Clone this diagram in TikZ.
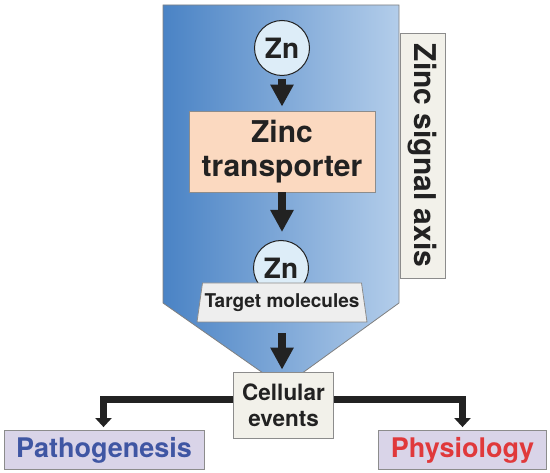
\documentclass[tikz,border=0pt]{standalone}
\usepackage{fontspec}
\setmainfont{TeX Gyre Heros}
\usetikzlibrary{shapes.geometric,arrows.meta}
\definecolor{blueL}{HTML}{4A83C5}
\definecolor{blueR}{HTML}{B3CDEA}
\definecolor{znfill}{HTML}{DDEDF8}
\definecolor{peach}{HTML}{FBD9C0}
\definecolor{paper}{HTML}{F2F1EA}
\definecolor{tgray}{HTML}{EEEEEE}
\definecolor{lav}{HTML}{D9D4E8}
\definecolor{pathblue}{HTML}{3F56A3}
\definecolor{physred}{HTML}{E0393B}
\definecolor{arr}{HTML}{222222}
\tikzset{
  znode/.style={circle,draw=arr,line width=1pt,fill=znfill,minimum size=55pt,inner sep=0pt,text=arr,font=\bfseries\fontsize{28}{30}\selectfont},
  boxnode/.style={draw=black!45,line width=0.8pt,inner sep=0pt,align=center,text=arr},
  bigarrow/.style={draw=arr,line width=8pt,-{Triangle[width=22pt,length=22pt]}},
  elbow/.style={draw=arr,line width=7pt,-{Triangle[width=16pt,length=9pt]}},
}
\begin{document}
\begin{tikzpicture}[x=1pt,y=-1pt]
\useasboundingbox (0,0) rectangle (550,473);
% blue pentagon
\shade[left color=blueL,right color=blueR,draw=black!50,line width=0.8pt]
  (163,5) -- (399,5) -- (399,303) -- (283,387) -- (163,303) -- cycle;
% zinc signal axis
\node[boxnode,fill=paper,minimum width=45pt,minimum height=245pt] (axis) at (422.5,155.5) {};
\node[rotate=-90,text=arr,font=\bfseries\fontsize{30}{32}\selectfont] (axistxt) at (axis.center) {Zinc signal axis};
% nodes
\node[znode] (zn1) at (282,48) {Zn};
\node[boxnode,fill=peach,minimum width=186pt,minimum height=81pt,font=\bfseries\fontsize{30}{34}\selectfont] (zt) at (282,151.5) {Zinc\\transporter};
\node[znode] (zn2) at (281,268) {Zn};
\node[boxnode,trapezium,trapezium stretches body,trapezium angle=73,fill=tgray,minimum width=170pt,minimum height=39pt,font=\bfseries\fontsize{19}{20}\selectfont] (tm) at (282,302.5) {Target molecules};
\node[boxnode,fill=paper,minimum width=100pt,minimum height=66pt,font=\bfseries\fontsize{22.5}{26}\selectfont] (ce) at (283.5,405) {Cellular\\events};
\node[boxnode,fill=lav,minimum width=200pt,minimum height=39pt,text=pathblue,font=\bfseries\fontsize{27}{30}\selectfont] (pg) at (104,450) {Pathogenesis};
\node[boxnode,fill=lav,minimum width=168pt,minimum height=39pt,text=physred,font=\bfseries\fontsize{27}{30}\selectfont] (ph) at (462.5,450) {Physiology};
% arrows
\draw[bigarrow,shorten <=3pt,shorten >=4pt] (zn1.south -| zt.north) -- (zt.north);
\draw[bigarrow,shorten >=8pt] (zt.south) -- (zt.south |- zn2.north);
\draw[bigarrow,shorten <=11pt,shorten >=2pt] (tm.south) -- (tm.south |- ce.north);
\draw[elbow,shorten >=3pt] (ce.west |- 0,399.5) -| (pg.north -| 103.5,0);
\draw[elbow,shorten >=3pt] (ce.east |- 0,399.5) -| (ph.north);
\end{tikzpicture}
\end{document}
